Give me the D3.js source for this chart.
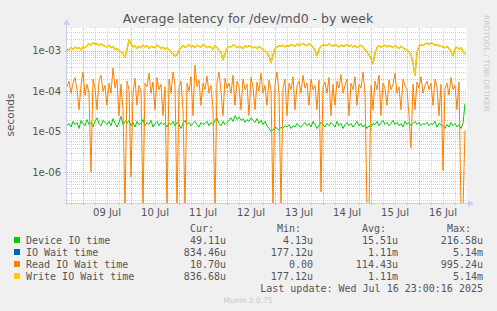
<!DOCTYPE html>
<html>
<head>
<meta charset="utf-8">
<script src="https://cdn.jsdelivr.net/npm/d3@7/dist/d3.min.js"></script>
<style>
  body { margin: 0; background: #f0f0f0; }
  svg { display: block; }
</style>
</head>
<body>
<div id="grafico"></div>
<script>
// DATOS: microsegundos, un punto por hora desde el 08 Jul 16:00 UTC
const inicioDatos = Date.UTC(2025, 6, 8, 16, 0, 0);
const pasoMs = 3600 * 1000;

const deviceIO = [
  14,16,13,18,15,17,12,19,16,14, 20,15,17,13,18,22,16,14,19,17,
  15,18,14,21,16,13,17,24,15,18, 16,19,14,17,13,18,15,16,20,14,
  17,15,19,13,16,18,14,17,15,16, 13,16,15,18,14,17,15,12,16,19,
  15,17,14,16,18,15,13,17,15,16, 18,14,17,15,19,22,16,14,18,15,
  17,19,22,18,25,20,23,19,21,17, 20,18,22,19,17,21,16,19,15,18,
  14,12,10,11,13,12,11,13,12,14, 13,15,12,14,13,16,14,13,15,17,
  14,16,13,18,15,12,14,17,15,13, 16,14,17,15,13,18,14,16,12,15,
  17,14,16,13,15,18,14,16,13,15, 12,14,13,16,15,18,14,17,19,15,
  17,14,16,19,15,17,14,16,13,18, 15,17,14,16,18,15,17,14,16,15,
  17,14,16,15,18,13,16,15,14,12, 15,13,17,14,16,13,15,12,16,49.11
];

const ioWait = [
  1080,1050,1200,1100,1250,1150,1200,1050,1300,1200, 1350,1500,1400,1600,1450,1550,1350,1500,1400,1300,
  1250,1400,1200,1300,1100,1150,1000,950,850,700, 1100,1900,1500,1250,1350,1150,1300,1200,1400,1250,
  1350,1150,1300,1250,1200,1400,1300,1150,1250,1100, 1200,1050,950,850,750,800,1050,1200,1350,1250,
  1300,1450,1250,1350,1200,1400,1300,1250,1450,1350, 1200,1300,1250,1100,1350,1200,1050,900,620,850,
  1150,1300,1250,1400,1350,1200,1300,1250,1150,1350, 1250,1350,1300,1200,1250,1150,1300,1200,1100,1000,
  900,750,520,800,1150,1250,1350,1300,1400,1250, 1350,1300,1450,1400,1300,1500,1350,1450,1550,1400,
  1350,1500,1400,1250,1050,750,1100,1300,1450,1400, 1350,1500,1400,1300,1450,1350,1250,1400,1300,1350,
  1450,1300,1400,1250,1350,1200,1300,1400,1250,1100, 950,800,650,480,900,1200,1350,1250,1300,1400,
  1250,1350,1300,1200,1350,1250,1150,1300,1200,1100, 1050,950,800,500,250,900,1300,1450,1350,1500,
  1550,1450,1600,1500,1400,1450,1350,1300,1250,1200, 1300,1150,1000,750,1150,1250,1100,1200,1000,834.46
];

const readWait = [
  130,180,90,160,220,110,35,140,300,80, 150,90,1,200,120,35,180,250,100,140,
  45,160,90,380,120,200,25,150,35,0, 180,110,0.75,90,210,45,140,100,0,160,
  130,280,90,170,35,220,110,150,25,130, 0,200,90,300,140,0,120,180,35,0,
  160,100,230,25,450,130,190,45,160,110, 240,90,140,35,0,170,300,100,25,210,
  120,160,90,250,45,180,130,35,200,110, 150,25,220,130,35,170,100,280,90,140,
  45,190,110,0,150,300,90,0,120,200, 25,160,110,230,35,140,180,90,250,120,
  160,45,200,110,140,35,190,0.32,130,170, 90,220,25,150,45,180,120,260,90,140,
  200,25,160,110,230,45,150,120,300,90, 0,0,140,35,180,110,250,25,160,120,
  45,190,110,150,280,90,130,35,200,140, 110,25,4,150,35,170,120,230,90,140,
  180,110,160,45,200,130,25,150,1.1,120, 160,80,220,110,140,35,170,0,0,10.7
];

const writeWait = [
  1150,1050,1200,1100,1250,1150,1200,1050,1300,1200, 1350,1500,1400,1600,1450,1550,1350,1500,1400,1300,
  1250,1400,1200,1300,1100,1150,1000,950,850,700, 1100,1900,1500,1250,1350,1150,1300,1200,1400,1250,
  1350,1150,1300,1250,1200,1400,1300,1150,1250,1100, 1200,1050,950,850,750,800,1050,1200,1350,1250,
  1300,1450,1250,1350,1200,1400,1300,1250,1450,1350, 1200,1300,1250,1100,1350,1200,1050,900,620,850,
  1150,1300,1250,1400,1350,1200,1300,1250,1150,1350, 1250,1350,1300,1200,1250,1150,1300,1200,1100,1000,
  900,750,520,800,1150,1250,1350,1300,1400,1250, 1350,1300,1450,1400,1300,1500,1350,1450,1550,1400,
  1350,1500,1400,1250,1050,750,1100,1300,1450,1400, 1350,1500,1400,1300,1450,1350,1250,1400,1300,1350,
  1450,1300,1400,1250,1350,1200,1300,1400,1250,1100, 950,800,650,480,900,1200,1350,1250,1300,1400,
  1250,1350,1300,1200,1350,1250,1150,1300,1200,1100, 1050,950,800,500,250,900,1300,1450,1350,1500,
  1550,1450,1600,1500,1400,1450,1350,1300,1250,1200, 1300,1150,1000,750,1150,1250,1100,1200,1000,836.68
];

// LEYENDA
const nombres = ["Device IO time", "IO Wait time", "Read IO Wait time", "Write IO Wait time"];
const colores = ["#00cc00", "#0066b3", "#ff8000", "#ffcc00"];
const valoresCur = ["49.11u", "834.46u", "10.70u", "836.68u"];
const valoresMin = ["4.13u", "177.12u", "0.00", "177.12u"];
const valoresAvg = ["15.51u", "1.11m", "114.43u", "1.11m"];
const valoresMax = ["216.58u", "5.14m", "995.24u", "5.14m"];

// EJES
const ticksY = [1e-3, 1e-4, 1e-5, 1e-6];
const etiquetasY = ["1e-03", "1e-04", "1e-05", "1e-06"];
const inicioEje = Date.UTC(2025, 6, 8, 16, 0, 0);
const finEje = Date.UTC(2025, 6, 17, 0, 0, 0);

const ancho = 497, alto = 311;
const izq = 67, der = 467, arriba = 28, abajo = 203;
const colorTexto = "#555";
const colorEje = "#c8cff0";

const $svg = d3.select("#grafico")
  .append("svg")
  .attr("width", ancho)
  .attr("height", alto)
  .style("background", "#f0f0f0");

const x = d3.scaleUtc()
  .domain([new Date(inicioEje), new Date(finEje)])
  .range([izq, der]);

const y = d3.scaleLog()
  .domain([1.71e-7, 3.71e-3])
  .range([abajo, arriba]);

// FONDO DEL AREA DE DIBUJO
$svg.append("rect")
  .attr("x", izq).attr("y", arriba)
  .attr("width", der - izq).attr("height", abajo - arriba)
  .attr("fill", "#ffffff");

$svg.append("clipPath").attr("id", "recorte")
  .append("rect")
  .attr("x", izq).attr("y", arriba)
  .attr("width", der - izq).attr("height", abajo - arriba);

// GRILLA HORIZONTAL (menores y mayores)
const menores = [];
for (let e = -7; e <= -3; e++) {
  for (let m = 2; m <= 9; m++) {
    const v = m * Math.pow(10, e);
    if (v > y.domain()[0] && v < y.domain()[1]) menores.push(v);
  }
}
const grilla = $svg.append("g").attr("shape-rendering", "crispEdges");
grilla.selectAll(".menorY").data(menores).join("line")
  .attr("x1", izq).attr("x2", der)
  .attr("y1", d => Math.round(y(d)) + 0.5).attr("y2", d => Math.round(y(d)) + 0.5)
  .attr("stroke", "#d0d0d0").attr("stroke-dasharray", "1,1");

// GRILLA VERTICAL: cada 6 horas, roja a medianoche
const horas = d3.utcHour.every(6).range(x.domain()[0], x.domain()[1]);
grilla.selectAll(".vert").data(horas).join("line")
  .attr("x1", d => Math.round(x(d)) + 0.5).attr("x2", d => Math.round(x(d)) + 0.5)
  .attr("y1", arriba).attr("y2", abajo + 2)
  .attr("stroke", d => d.getUTCHours() === 0 ? "#eea0a0" : "#d0d0d0")
  .attr("stroke-dasharray", "1,1");

grilla.selectAll(".mayorY").data(ticksY).join("line")
  .attr("x1", izq - 2).attr("x2", der)
  .attr("y1", d => Math.round(y(d)) + 0.5).attr("y2", d => Math.round(y(d)) + 0.5)
  .attr("stroke", "#eea0a0").attr("stroke-dasharray", "1,1");

// SERIES
const series = [deviceIO, ioWait, readWait, writeWait];
const linea = d3.line()
  .x((d, i) => x(new Date(inicioDatos + i * pasoMs)))
  .y(d => d > 0 ? y(d * 1e-6) : abajo + 6);

const capaSeries = $svg.append("g").attr("clip-path", "url(#recorte)");
series.forEach((serie, k) => {
  capaSeries.append("path")
    .datum(serie)
    .attr("d", linea)
    .attr("fill", "none")
    .attr("stroke", colores[k])
    .attr("stroke-width", k === 3 ? 1.5 : 1)
    .attr("stroke-linejoin", "round");
});

// EJES Y FLECHAS
$svg.append("line")
  .attr("x1", izq - 0.5).attr("x2", izq - 0.5)
  .attr("y1", abajo + 2).attr("y2", arriba - 4)
  .attr("stroke", colorEje);
$svg.append("line")
  .attr("x1", izq - 2).attr("x2", der + 4)
  .attr("y1", abajo + 0.5).attr("y2", abajo + 0.5)
  .attr("stroke", colorEje);
$svg.append("path")
  .attr("d", `M${izq - 4},${arriba - 3} L${izq - 0.5},${arriba - 9} L${izq + 3},${arriba - 3} Z`)
  .attr("fill", colorEje);
$svg.append("path")
  .attr("d", `M${der + 1},${abajo - 3} L${der + 7},${abajo + 0.5} L${der + 1},${abajo + 4} Z`)
  .attr("fill", colorEje);

// ETIQUETAS Y
$svg.selectAll(".etiquetaY").data(ticksY).join("text")
  .attr("x", izq - 6)
  .attr("y", d => y(d))
  .attr("text-anchor", "end")
  .attr("dominant-baseline", "central")
  .attr("font-family", "DejaVu Sans")
  .attr("font-size", 10)
  .attr("fill", colorTexto)
  .text((d, i) => etiquetasY[i]);

// ETIQUETAS X (al mediodia)
const mediodias = d3.utcHour.every(12).range(x.domain()[0], x.domain()[1])
  .filter(d => d.getUTCHours() === 12);
$svg.selectAll(".etiquetaX").data(mediodias).join("text")
  .attr("x", d => x(d))
  .attr("y", 216)
  .attr("text-anchor", "middle")
  .attr("font-family", "DejaVu Sans")
  .attr("font-size", 10)
  .attr("fill", colorTexto)
  .text(d => d3.utcFormat("%d %b")(d));

// TITULO
$svg.append("text")
  .attr("x", 248).attr("y", 23)
  .attr("text-anchor", "middle")
  .attr("font-family", "DejaVu Sans")
  .attr("font-size", 12.5)
  .attr("fill", colorTexto)
  .text("Average latency for /dev/md0 - by week");

$svg.append("text")
  .attr("transform", "translate(14, 115) rotate(-90)")
  .attr("text-anchor", "middle")
  .attr("font-family", "DejaVu Sans")
  .attr("font-size", 10.5)
  .attr("fill", colorTexto)
  .text("seconds");

$svg.append("text")
  .attr("transform", "translate(484, 15) rotate(90)")
  .attr("text-anchor", "start")
  .attr("font-family", "DejaVu Sans")
  .attr("font-size", 7.5)
  .attr("fill", "#c8c8c8")
  .text("RRDTOOL / TOBI OETIKER");

// LEYENDA
const mono = "DejaVu Sans Mono";
const filas = [240, 252, 264, 276];
const columnas = [
  { titulo: "Cur:", xDer: 226, vals: valoresCur },
  { titulo: "Min:", xDer: 313, vals: valoresMin },
  { titulo: "Avg:", xDer: 398, vals: valoresAvg },
  { titulo: "Max:", xDer: 483, vals: valoresMax }
];

columnas.forEach(c => {
  $svg.append("text")
    .attr("x", c.xDer - 12).attr("y", 228)
    .attr("text-anchor", "end")
    .attr("dominant-baseline", "central")
    .attr("font-family", mono).attr("font-size", 10)
    .attr("fill", colorTexto)
    .text(c.titulo);
  $svg.selectAll(null).data(c.vals).join("text")
    .attr("x", c.xDer).attr("y", (d, i) => filas[i])
    .attr("text-anchor", "end")
    .attr("dominant-baseline", "central")
    .attr("font-family", mono).attr("font-size", 10)
    .attr("fill", colorTexto)
    .text(d => d);
});

nombres.forEach((n, i) => {
  $svg.append("rect")
    .attr("x", 14).attr("y", filas[i] - 3)
    .attr("width", 6).attr("height", 6)
    .attr("fill", colores[i]);
  $svg.append("text")
    .attr("x", 26).attr("y", filas[i])
    .attr("dominant-baseline", "central")
    .attr("font-family", mono).attr("font-size", 10)
    .attr("fill", colorTexto)
    .text(n);
});

$svg.append("text")
  .attr("x", 483).attr("y", 288)
  .attr("text-anchor", "end")
  .attr("dominant-baseline", "central")
  .attr("font-family", mono).attr("font-size", 10)
  .attr("fill", colorTexto)
  .text("Last update: Wed Jul 16 23:00:16 2025");

$svg.append("text")
  .attr("x", 248).attr("y", 300)
  .attr("text-anchor", "middle")
  .attr("dominant-baseline", "central")
  .attr("font-family", "DejaVu Sans").attr("font-size", 7.5)
  .attr("fill", "#c8c8c8")
  .text("Munin 2.0.75");
</script>
</body>
</html>
